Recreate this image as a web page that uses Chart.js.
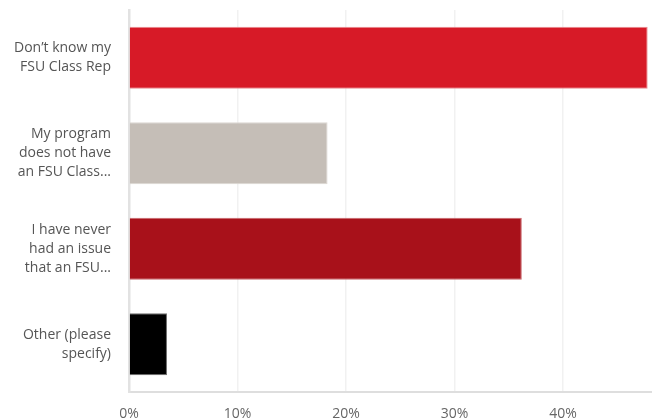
<!DOCTYPE html>
<html>
<head>
<meta charset="utf-8">
<script src="https://cdn.jsdelivr.net/npm/chart.js@4/dist/chart.umd.min.js"></script>
<style>
html,body{margin:0;padding:0;background:#fff;}
#wrap{width:652px;height:418px;position:relative;}
</style>
</head>
<body>
<div id="wrap"><canvas id="c" width="652" height="418"></canvas></div>
<script>
const categories = [
  ["Don\u2019t know my", "FSU Class Rep"],
  ["My program", "does not have", "an FSU Class..."],
  ["I have never", "had an issue", "that an FSU..."],
  ["Other (please", "specify)"]
];
const values = [47.8, 18.3, 36.2, 3.5];
const tickValues = [0, 10, 20, 30, 40];
const barColors = ["#d71a27", "#c5beb7", "#a8111a", "#000000"];
const barBorders = ["#e98a90", "#dcd7d2", "#c9676c", "#6e6e6e"];

new Chart(document.getElementById('c'), {
  type: 'bar',
  data: {
    labels: categories,
    datasets: [{
      data: values,
      backgroundColor: barColors,
      borderColor: barBorders,
      borderWidth: 1,
      barPercentage: 0.65,
      categoryPercentage: 1
    }]
  },
  options: {
    indexAxis: 'y',
    responsive: false,
    animation: false,
    layout: { padding: { top: 10, right: 0, left: 0, bottom: 0 } },
    plugins: { legend: { display: false }, tooltip: { enabled: false } },
    scales: {
      x: {
        min: 0,
        max: 48.2,
        afterBuildTicks: (s) => { s.ticks = tickValues.map(v => ({ value: v })); },
        afterFit: (s) => { s.height = 26; s.paddingLeft = 0; s.paddingRight = 0; },
        grid: { color: '#f1f1f1', lineWidth: 1.5, drawTicks: false },
        border: { display: true, color: '#dedede', width: 2 },
        ticks: {
          padding: 14,
          color: '#666',
          font: { family: 'Open Sans', size: 14 },
          callback: (v) => v + '%'
        }
      },
      y: {
        afterFit: (s) => { s.width = 129; s.paddingTop = 0; s.paddingBottom = 0; },
        grid: { display: false, drawTicks: false },
        border: { display: true, color: '#e2e2e2', width: 2.5 },
        ticks: {
          padding: 18,
          color: '#555',
          font: { family: 'Open Sans', size: 14, lineHeight: 1.35 }
        }
      }
    }
  }
});
</script>
</body>
</html>
